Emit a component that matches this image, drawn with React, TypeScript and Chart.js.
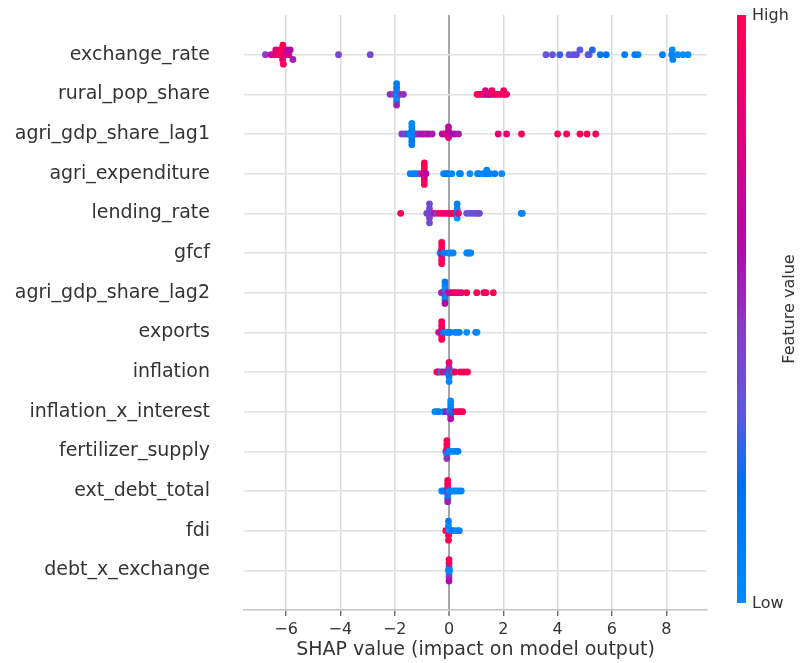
import React, { useEffect, useRef } from 'react';
import { Chart, registerables } from 'chart.js';

Chart.register(...registerables);

// Features, top to bottom
const featureNames = [
  'exchange_rate',
  'rural_pop_share',
  'agri_gdp_share_lag1',
  'agri_expenditure',
  'lending_rate',
  'gfcf',
  'agri_gdp_share_lag2',
  'exports',
  'inflation',
  'inflation_x_interest',
  'fertilizer_supply',
  'ext_debt_total',
  'fdi',
  'debt_x_exchange',
];

// SHAP values and normalised feature values (0 = low, 1 = high) per feature
const exchangeRateShap = [-6.76, -6.55, -6.45, -6.38, -6.30, -6.22, -6.18, -6.15, -6.13, -6.12, -6.10, -6.05, -5.98, -5.90, -5.85, -5.75, -4.07, -2.90, 3.57, 3.81, 4.08, 4.42, 4.57, 4.69, 4.82, 5.12, 5.16, 5.28, 5.57, 5.79, 6.47, 6.84, 6.96, 7.86, 8.20, 8.22, 8.24, 8.43, 8.62, 8.80];
const exchangeRateValue = [0.45, 0.7, 0.75, 0.8, 0.9, 0.95, 1, 1, 0.85, 1, 0.95, 0.8, 0.7, 0.75, 0.6, 0.55, 0.42, 0.42, 0.36, 0.36, 0.28, 0.34, 0.36, 0.37, 0.33, 0.3, 0.34, 0.25, 0.15, 0.2, 0.1, 0.1, 0.05, 0.1, 0.05, 0.0, 0.05, 0.0, 0.0, 0.0];

const ruralPopShap = [-2.17, -2.05, -1.93, -1.93, -1.93, -1.93, -1.93, -1.93, -1.93, -1.80, -1.68, 1.03, 1.08, 1.15, 1.22, 1.30, 1.33, 1.34, 1.40, 1.45, 1.47, 1.50, 1.55, 1.58, 1.65, 1.70, 1.80, 1.89, 1.98, 2.01, 2.05, 2.12];
const ruralPopValue = [0.5, 0.45, 0.1, 0.05, 0.0, 0.15, 0.05, 0.1, 0.55, 0.45, 0.5, 1, 0.95, 1, 0.9, 1, 0.95, 0.8, 0.7, 0.6, 0.9, 0.75, 0.7, 0.95, 1, 0.9, 0.95, 1, 0.85, 0.9, 1, 0.9];

const agriGdpLag1Shap = [-1.74, -1.62, -1.50, -1.45, -1.40, -1.37, -1.37, -1.37, -1.37, -1.37, -1.37, -1.30, -1.25, -1.15, -1.05, -0.95, -0.85, -0.75, -0.62, -0.25, -0.15, -0.05, -0.02, -0.02, -0.02, 0.08, 0.20, 0.35, 1.81, 2.12, 2.67, 4.00, 4.33, 4.82, 5.08, 5.40];
const agriGdpLag1Value = [0.45, 0.42, 0.2, 0.05, 0.0, 0.1, 0.0, 0.05, 0.15, 0.0, 0.1, 0.1, 0.05, 0.5, 0.55, 0.6, 0.55, 0.6, 0.55, 0.6, 0.7, 0.75, 0.7, 0.8, 0.65, 0.6, 0.6, 0.55, 0.85, 0.85, 1, 1, 1, 1, 1, 0.95];

const agriExpShap = [-1.43, -1.30, -1.20, -1.07, -0.95, -0.91, -0.91, -0.91, -0.91, -0.91, -0.91, -0.91, -0.85, -0.20, -0.12, -0.03, 0.10, 0.38, 0.42, 0.77, 1.05, 1.10, 1.26, 1.39, 1.39, 1.42, 1.51, 1.69, 1.94];
const agriExpValue = [0.05, 0.1, 0.05, 0.45, 0.7, 1, 0.95, 0.9, 1, 0.85, 1, 0.95, 0.6, 0.05, 0.1, 0.1, 0.05, 0.0, 0.05, 0.0, 0.1, 0.05, 0.05, 0.0, 0.05, 0.1, 0.05, 0.1, 0.0];

const lendingRateShap = [-1.78, -0.82, -0.75, -0.72, -0.72, -0.72, -0.72, -0.72, -0.62, -0.55, -0.45, -0.35, -0.25, -0.15, -0.05, 0.00, 0.05, 0.10, 0.15, 0.22, 0.30, 0.30, 0.30, 0.30, 0.35, 0.65, 0.75, 0.85, 0.95, 1.05, 1.12, 2.66, 2.70];
const lendingRateValue = [1, 0.42, 0.38, 0.42, 0.38, 0.45, 0.4, 0.38, 0.42, 0.55, 0.42, 0.95, 1, 0.9, 0.8, 0.75, 0.85, 1, 0.9, 0.95, 0.1, 0.05, 0.0, 0.1, 0.85, 0.36, 0.34, 0.38, 0.34, 0.36, 0.4, 0.1, 0.05];

const gfcfShap = [-0.33, -0.27, -0.27, -0.27, -0.27, -0.27, -0.27, -0.27, -0.20, -0.02, 0.05, 0.15, 0.65, 0.70, 0.75, 0.80];
const gfcfValue = [0.05, 0.05, 0.85, 0.7, 1, 0.9, 1, 1, 0.1, 0.05, 0.0, 0.05, 0.0, 0.05, 0.0, 0.05];

const agriGdpLag2Shap = [-0.28, -0.22, -0.15, -0.15, -0.15, -0.15, -0.15, -0.15, -0.15, -0.08, 0.00, 0.10, 0.16, 0.25, 0.34, 0.45, 0.65, 1.02, 1.28, 1.36, 1.63];
const agriGdpLag2Value = [0.5, 0.55, 0.5, 0.05, 0.1, 0.0, 0.05, 0.1, 0.6, 0.45, 0.6, 0.8, 0.9, 0.85, 0.95, 0.85, 1, 1, 1, 0.95, 1];

const exportsShap = [-0.38, -0.30, -0.27, -0.27, -0.27, -0.27, -0.27, -0.27, -0.20, -0.10, -0.05, 0.02, 0.05, 0.22, 0.30, 0.38, 0.65, 0.98, 1.03];
const exportsValue = [0.6, 0.7, 0.55, 0.85, 0.9, 1, 1, 0.95, 0.1, 0.1, 0.0, 0.05, 0.1, 0.05, 0.0, 0.05, 0.0, 0.05, 0.0];

const inflationShap = [-0.45, -0.38, -0.30, -0.22, -0.12, -0.08, -0.02, 0.00, 0.00, 0.00, 0.00, 0.00, 0.05, 0.10, 0.15, 0.22, 0.42, 0.55, 0.68];
const inflationValue = [1, 0.9, 0.05, 0.95, 0.1, 0.6, 0.3, 0.2, 0.5, 0.1, 0.9, 0.0, 0.1, 0.95, 0.05, 0.9, 1, 0.95, 1];

const inflInterestShap = [-0.52, -0.45, -0.38, -0.20, -0.10, 0.00, 0.06, 0.06, 0.06, 0.06, 0.06, 0.06, 0.12, 0.25, 0.35, 0.42, 0.50];
const inflInterestValue = [0.05, 0.0, 0.1, 0.05, 0.6, 0.3, 0.0, 0.1, 0.5, 0.05, 0.6, 0.0, 0.2, 0.9, 1, 0.95, 1];

const fertilizerShap = [-0.12, -0.08, -0.08, -0.08, -0.08, -0.08, -0.08, -0.02, 0.02, 0.10, 0.18, 0.28, 0.33];
const fertilizerValue = [0.5, 0.45, 0.9, 0.05, 1, 0.5, 0.95, 0.1, 0.05, 0.0, 0.05, 0.0, 0.1];

const extDebtShap = [-0.27, -0.18, -0.05, -0.05, -0.05, -0.05, -0.05, -0.05, -0.05, 0.00, 0.08, 0.15, 0.25, 0.35, 0.45];
const extDebtValue = [0.05, 0.1, 0.05, 0.9, 0.45, 1, 0.1, 0.95, 0.55, 0.1, 0.05, 0.0, 0.05, 0.0, 0.05];

const fdiShap = [-0.12, -0.08, -0.02, -0.02, -0.02, -0.02, -0.02, 0.05, 0.10, 0.18, 0.30, 0.38];
const fdiValue = [0.95, 1, 0.05, 0.0, 0.9, 0.1, 1, 0.0, 0.05, 0.1, 0.0, 0.05];

const debtExchangeShap = [-0.02, 0.00, 0.00, 0.00, 0.00, 0.00, 0.00, 0.00, 0.02];
const debtExchangeValue = [0.9, 0.05, 0.1, 0.0, 0.9, 0.5, 1, 0.6, 0.05];

const shapByFeature = [exchangeRateShap, ruralPopShap, agriGdpLag1Shap, agriExpShap, lendingRateShap, gfcfShap, agriGdpLag2Shap, exportsShap, inflationShap, inflInterestShap, fertilizerShap, extDebtShap, fdiShap, debtExchangeShap];
const valueByFeature = [exchangeRateValue, ruralPopValue, agriGdpLag1Value, agriExpValue, lendingRateValue, gfcfValue, agriGdpLag2Value, exportsValue, inflationValue, inflInterestValue, fertilizerValue, extDebtValue, fdiValue, debtExchangeValue];

const xTickValues = [-6, -4, -2, 0, 2, 4, 6, 8];
const xAxisTitle = 'SHAP value (impact on model output)';
const colorbarHigh = 'High';
const colorbarLow = 'Low';
const colorbarTitle = 'Feature value';

const colorStops: [number, [number, number, number]][] = [
  [0.0, [0, 140, 252]],
  [0.2, [0, 112, 240]],
  [0.33, [95, 88, 222]],
  [0.47, [138, 58, 196]],
  [0.6, [176, 12, 168]],
  [0.8, [226, 0, 125]],
  [1.0, [255, 0, 82]],
];

function colorFor(t: number): string {
  for (let i = 1; i < colorStops.length; i++) {
    const [p1, c1] = colorStops[i];
    const [p0, c0] = colorStops[i - 1];
    if (t <= p1) {
      const f = (t - p0) / (p1 - p0 || 1);
      const c = c0.map((v, k) => Math.round(v + (c1[k] - v) * f));
      return `rgb(${c[0]},${c[1]},${c[2]})`;
    }
  }
  const c = colorStops[colorStops.length - 1][1];
  return `rgb(${c[0]},${c[1]},${c[2]})`;
}

// SHAP-style beeswarm vertical offsets
function beeswarm(shaps: number[], rowHeight = 0.4): number[] {
  const n = shaps.length;
  const nbins = 100;
  const mn = Math.min(...shaps);
  const mx = Math.max(...shaps);
  const quant = shaps.map((s) => Math.round((nbins * (s - mn)) / (mx - mn + 1e-8)));
  const inds = shaps.map((_, i) => i).sort((a, b) => quant[a] - quant[b] || a - b);
  let layer = 0;
  let last = -1;
  const ys = new Array(n).fill(0);
  for (const ind of inds) {
    if (quant[ind] !== last) layer = 0;
    ys[ind] = Math.ceil(layer / 2) * ((layer % 2) * 2 - 1);
    layer++;
    last = quant[ind];
  }
  const m = Math.max(...ys.map((y) => y + 1));
  return ys.map((y) => (y * 0.9 * rowHeight) / m);
}

const FONT = '"DejaVu Sans", "Liberation Sans", sans-serif';
const TEXT = '#333333';

const colorbarPlugin = {
  id: 'shapColorbar',
  afterDraw(chart: any) {
    const ctx = chart.ctx as CanvasRenderingContext2D;
    const x0 = 737;
    const w = 9;
    const top = 15;
    const bottom = 603;
    ctx.save();
    const g = ctx.createLinearGradient(0, bottom, 0, top);
    colorStops.forEach(([p, c]) => g.addColorStop(p, `rgb(${c[0]},${c[1]},${c[2]})`));
    ctx.fillStyle = g;
    ctx.fillRect(x0, top, w, bottom - top);
    ctx.fillStyle = TEXT;
    ctx.font = `16px ${FONT}`;
    ctx.textAlign = 'left';
    ctx.textBaseline = 'middle';
    ctx.fillText(colorbarHigh, x0 + w + 6, top + 1);
    ctx.fillText(colorbarLow, x0 + w + 6, bottom + 1);
    ctx.translate(790, (top + bottom) / 2);
    ctx.rotate(-Math.PI / 2);
    ctx.textAlign = 'center';
    ctx.font = `16px ${FONT}`;
    ctx.fillText(colorbarTitle, 0, 0);
    ctx.restore();
  },
};

export default function App() {
  const ref = useRef<HTMLCanvasElement | null>(null);

  useEffect(() => {
    if (!ref.current) return;
    const nF = featureNames.length;
    const datasets = featureNames.map((name, i) => {
      const shaps = shapByFeature[i];
      const vals = valueByFeature[i];
      const offs = beeswarm(shaps);
      const row = nF - 1 - i;
      return {
        label: name,
        data: shaps.map((s, j) => ({ x: s, y: row + offs[j] })),
        backgroundColor: vals.map(colorFor),
        pointRadius: 3.4,
        pointHoverRadius: 3.4,
        pointBorderWidth: 0,
        borderWidth: 0,
        showLine: false,
      };
    });

    const chart = new Chart(ref.current, {
      type: 'scatter',
      data: { datasets },
      options: {
        animation: false,
        responsive: false,
        events: [],
        layout: { padding: { top: 15, right: 95, bottom: 0, left: 0 } },
        plugins: {
          legend: { display: false },
          tooltip: { enabled: false },
        },
        scales: {
          x: {
            type: 'linear',
            min: -7.55,
            max: 9.5,
            afterBuildTicks: (s: any) => {
              s.ticks = xTickValues.map((v) => ({ value: v }));
            },
            afterFit: (s: any) => {
              s.height = 53;
              s.paddingLeft = 0;
              s.paddingRight = 0;
            },
            ticks: {
              color: TEXT,
              font: { family: FONT, size: 16 },
              padding: 4,
              callback: (v: any) => (Number(v) < 0 ? '\u2212' + Math.abs(Number(v)) : String(v)),
            },
            grid: {
              color: (c: any) => (c.tick && c.tick.value === 0 ? '#a6a6a6' : '#dcdcdc'),
              lineWidth: (c: any) => (c.tick && c.tick.value === 0 ? 2 : 1.5),
              drawTicks: true,
              tickLength: 6,
              tickColor: '#555555',
              tickWidth: 1.2,
            },
            border: { display: true, color: '#c4c4c4', width: 1.5 },
            title: {
              display: true,
              text: xAxisTitle,
              color: TEXT,
              font: { family: FONT, size: 19 },
              padding: { top: 0, bottom: 2 },
            },
          },
          y: {
            type: 'linear',
            min: -1,
            max: featureNames.length,
            afterBuildTicks: (s: any) => {
              s.ticks = featureNames.map((_, i) => ({ value: i }));
            },
            afterFit: (s: any) => {
              s.width = 244;
              s.paddingTop = 0;
              s.paddingBottom = 0;
            },
            ticks: {
              color: TEXT,
              font: { family: FONT, size: 19 },
              padding: 34,
              callback: (v: any) => featureNames[featureNames.length - 1 - Number(v)],
            },
            grid: {
              color: '#e0e0e0',
              lineWidth: 1.5,
              drawTicks: false,
            },
            border: { display: false },
          },
        },
      },
      plugins: [colorbarPlugin],
    });

    return () => chart.destroy();
  }, []);

  return (
    <div style={{ position: 'absolute', left: 0, top: 0, width: 802, height: 663, background: '#ffffff' }}>
      <canvas ref={ref} width={802} height={663} style={{ display: 'block' }} />
    </div>
  );
}
